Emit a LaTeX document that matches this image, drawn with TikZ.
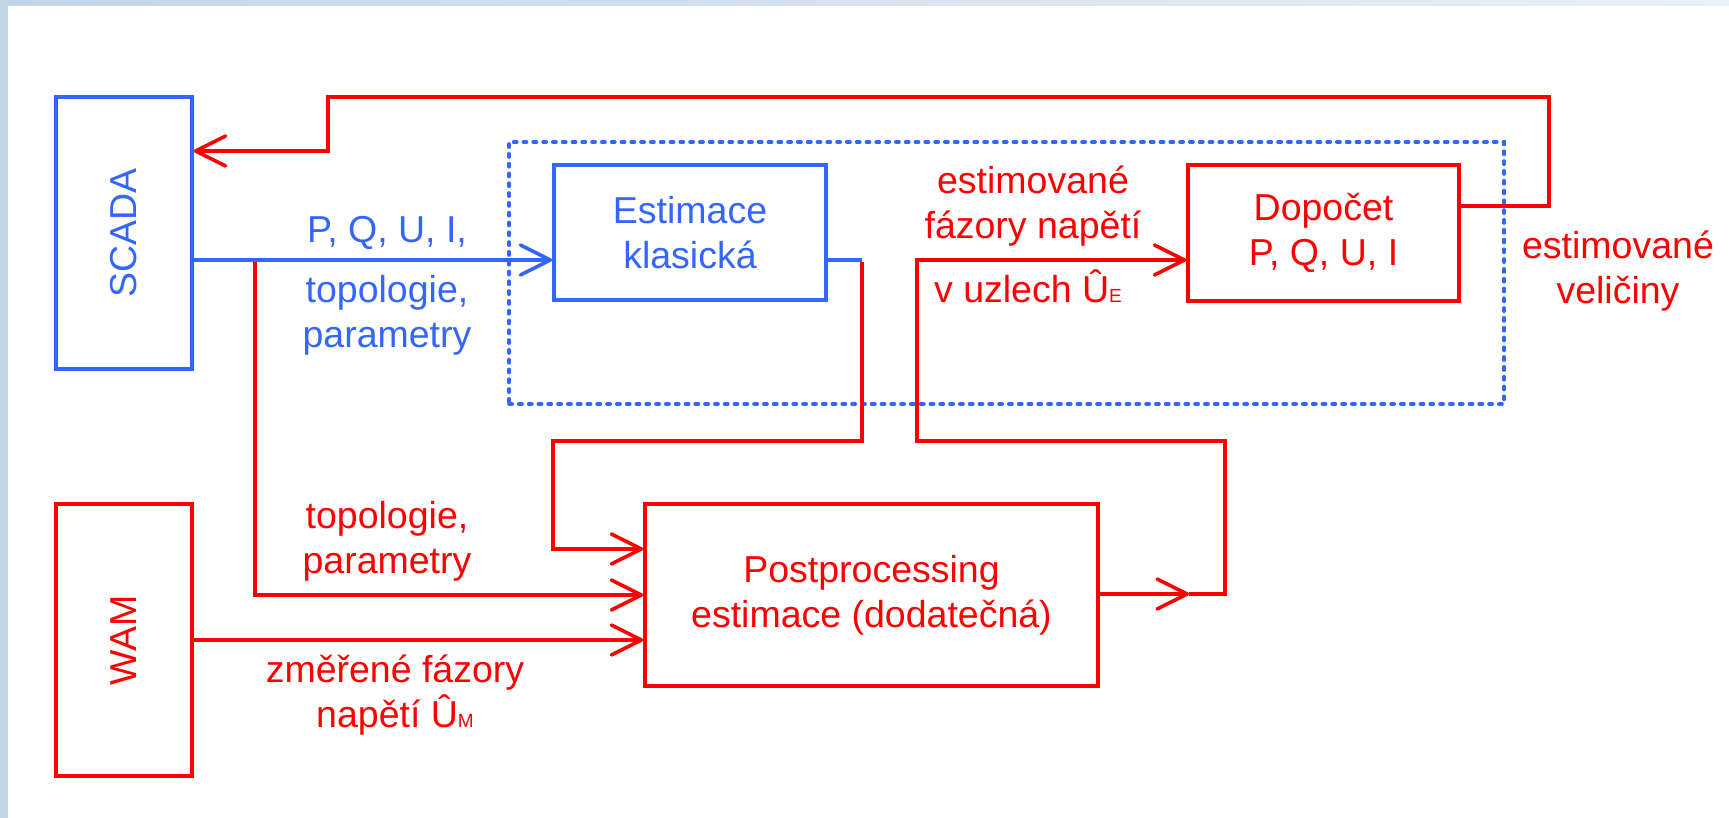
\documentclass[tikz,border=0pt]{standalone}
\usepackage{fontspec}
\setmainfont{Liberation Sans}
\usetikzlibrary{arrows.meta}
\definecolor{scblue}{RGB}{51,102,255}
\definecolor{scred}{RGB}{255,0,0}
\definecolor{slideA}{RGB}{194,214,233}
\definecolor{slideB}{RGB}{233,240,247}
\begin{document}
\begin{tikzpicture}[x=0.5pt,y=-0.5pt,
  txt/.style={font=\fontsize{18.75pt}{22.5pt}\selectfont, inner sep=0pt, align=center},
  box/.style={draw, line width=1.8pt, line join=miter, inner sep=0pt, align=center,
              font=\fontsize{18.75pt}{22.5pt}\selectfont},
  wire/.style={line width=1.8pt, line join=miter},
  barb/.style={-{Straight Barb[length=15pt,width=15pt,round]}},
  grpframe/.style={draw=scblue, line width=1.8pt, line cap=round,
                   dash pattern=on 1.6pt off 3.3pt},
]
\useasboundingbox (0,0) rectangle (1729,818);

% slide background and white canvas
\shade[left color=slideA, right color=slideB] (0,0) rectangle (1729,818);
\fill[white] (8,6) rectangle (1729,818);

% blocks
\node[box, draw=scblue, minimum width=68pt, minimum height=136pt] (scada) at (124,233) {};
\node[txt, text=scblue, rotate=90] (scadalbl) at (scada.center) {SCADA};
\node[box, draw=scred, minimum width=68pt, minimum height=136pt] (wam) at (124,640) {};
\node[txt, text=scred, rotate=90] (wamlbl) at (wam.center) {WAM};

\node[grpframe, minimum width=497.5pt, minimum height=131pt] (grp) at (1006.5,273) {};

\node[box, draw=scblue, text=scblue, minimum width=136pt, minimum height=67.5pt]
  (est) at (690,232.5) {Estimace\\klasická};
\node[box, draw=scred, text=scred, minimum width=135.5pt, minimum height=68pt]
  (dop) at (1323.5,233) {Dopočet\\P, Q, U, I};
\node[box, draw=scred, text=scred, minimum width=226.5pt, minimum height=91pt]
  (post) at (871.5,595) {Postprocessing\\estimace (dodatečná)};

% routing points
\coordinate (yMeas) at (0,260);
\coordinate (yBack) at (0,151);
\coordinate (yDop) at (0,206);
\coordinate (yIn1) at (0,549);
\coordinate (yIn2) at (0,595);
\coordinate (yIn3) at (0,640);
\coordinate (jTopo) at (255,260);
\coordinate (jEst) at (862,260);
\coordinate (jEstR) at (862,262);
\coordinate (estDown) at (862,441);
\coordinate (estLeft) at (553,441);
\coordinate (estIn) at (553,549);
\coordinate (postOut) at (1189,594);
\coordinate (postR) at (1225,594);
\coordinate (postUp) at (1225,441);
\coordinate (phL) at (917,441);
\coordinate (phUp) at (917,260);
\coordinate (backR) at (1549,206);
\coordinate (backTR) at (1549,97);
\coordinate (backTL) at (328,97);
\coordinate (backDn) at (328,151);

% red connectors
\draw[wire, scred, barb] (jTopo) -- (255,595) -- (post.west |- yIn2);
\draw[wire, scred, barb] (wam.east |- yIn3) -- (post.west |- yIn3);
\draw[wire, scred, barb] (jEstR) -- (estDown) -- (estLeft) -- (estIn) -- (post.west |- yIn1);
\draw[wire, scred, barb] (post.east |- postOut) -- (postOut);
\draw[wire, scred, barb] (postOut) -- (postR) -- (postUp) -- (phL) -- (phUp) -- (dop.west |- yMeas);
\draw[wire, scred, barb] (dop.east |- yDop) -- (backR) -- (backTR) -- (backTL) -- (backDn) -- (scada.east |- yBack);

% blue connectors
\draw[wire, scblue, barb] (scada.east |- yMeas) -- (est.west |- yMeas);
\draw[wire, scblue] (est.east |- yMeas) -- (jEst);

% labels
\node[txt, text=scblue, anchor=base] (lblPQ) at (387,243) {P, Q, U, I,};
\node[txt, text=scblue] (lblTopoB) at (387,315.5) {topologie,\\parametry};
\node[txt, text=scred] (lblTopoR) at (387,541) {topologie,\\parametry};
\node[txt, text=scred] (lblWam) at (395,695.5)
  {změřené fázory\\napětí Û{\fontsize{9.5pt}{9.5pt}\selectfont M}};
\node[txt, text=scred] (lblPhA) at (1033,206) {estimované\\fázory napětí};
\node[txt, text=scred, anchor=base] (lblPhB) at (1028,302)
  {v uzlech Û{\fontsize{9.5pt}{9.5pt}\selectfont E}};
\node[txt, text=scred] (lblOut) at (1618,271) {estimované\\veličiny};
\end{tikzpicture}
\end{document}
